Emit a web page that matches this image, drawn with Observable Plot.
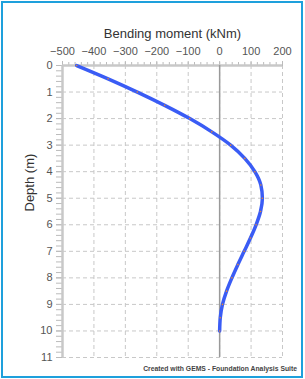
<!DOCTYPE html>
<html><head><meta charset="utf-8">
<script src="https://cdn.jsdelivr.net/npm/d3@7"></script>
<script src="https://cdn.jsdelivr.net/npm/@observablehq/plot@0.6"></script>
<style>
html,body{margin:0;padding:0;background:#fff;}
#wrap{position:relative;width:305px;height:379px;overflow:hidden;font-family:"Liberation Sans",Arial,sans-serif;}
#border{position:absolute;left:1px;top:1px;width:302px;height:377px;box-sizing:border-box;border:2px solid #1ea0dc;pointer-events:none;}
#caption{position:absolute;right:8px;top:365px;font-size:6.8px;font-weight:bold;color:#444;white-space:nowrap;}
#chart{position:absolute;left:0;top:0;}
</style></head>
<body><div id="wrap"><div id="chart"></div><div id="border"></div><div id="caption">Created with GEMS - Foundation Analysis Suite</div></div>
<script>
const depth  = [0, 0.5, 1, 1.5, 2, 2.5, 3, 3.5, 4, 4.5, 5, 5.5, 6, 6.5, 7, 7.5, 8, 8.5, 9, 9.5, 10];
const moment = [-455, -355, -262, -175, -95, -25, 35, 80, 112, 131, 136, 130, 116, 98, 78, 58, 39, 22, 9, 2, 0];
const xTicks = [-500, -400, -300, -200, -100, 0, 100, 200];
const yTicks = [0, 1, 2, 3, 4, 5, 6, 7, 8, 9, 10, 11];
const xMinor = d3.range(-500, 201, 20);
const yMinor = d3.range(0, 11.001, 0.2);
const xTitle = "Bending moment (kNm)";
const yTitle = "Depth (m)";
const data = depth.map((d, i) => ({depth: d, moment: moment[i]}));

const chart = Plot.plot({
  width: 305, height: 379,
  marginTop: 65, marginBottom: 22, marginLeft: 62, marginRight: 23,
  style: {fontFamily: "Liberation Sans, Arial, sans-serif", background: "transparent"},
  x: {domain: [-500, 200]},
  y: {domain: [0, 11], reverse: true},
  marks: [
    Plot.gridX(xTicks, {stroke: "#c8c8c8", strokeOpacity: 1, strokeDasharray: "4,3"}),
    Plot.gridY(yTicks, {stroke: "#c8c8c8", strokeOpacity: 1, strokeDasharray: "4,3"}),
    Plot.axisX(xMinor, {anchor: "top", tickSize: 4, stroke: "#bbb", tickFormat: () => "", label: null}),
    Plot.axisX(xTicks, {anchor: "top", tickSize: 5, tickPadding: 6, stroke: "#bbb", fontSize: 11, color: "#555", label: null}),
    Plot.axisY(yMinor, {anchor: "left", tickSize: 6, stroke: "#bbb", tickFormat: () => "", label: null}),
    Plot.axisY(yTicks, {anchor: "left", tickSize: 6, tickPadding: 4, stroke: "#bbb", fontSize: 11, color: "#555", label: null}),
    Plot.text([xTitle], {frameAnchor: "top", dy: -32, fontSize: 13, fill: "#333", lineAnchor: "middle"}),
    Plot.text([yTitle], {frameAnchor: "left", dx: -33, rotate: -90, fontSize: 13, fill: "#333", lineAnchor: "middle"}),
    Plot.ruleY([0], {stroke: "#c8c8c8", strokeWidth: 2.5}),
    Plot.ruleX([-500], {stroke: "#c8c8c8", strokeWidth: 2.5}),
    Plot.ruleX([0], {stroke: "#999", strokeWidth: 1.5}),
    Plot.line(data, {x: "moment", y: "depth", curve: "monotone-y", stroke: "#3a5cf5", strokeWidth: 3.5}),
    Plot.dot(data, {x: "moment", y: "depth", r: 0.8, fill: "#e8892f", stroke: null})
  ]
});
document.getElementById("chart").append(chart);
</script></body></html>
